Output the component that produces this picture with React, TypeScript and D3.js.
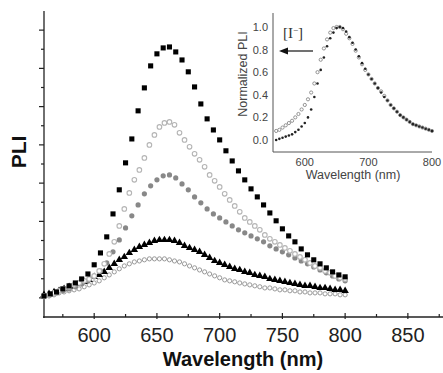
import React from "react";
import * as d3 from "d3";

// ---------- Main chart data (PLI, arbitrary units) ----------
const wl5 = d3.range(560, 801, 5); // 5 nm sampling
const wl4 = d3.range(560, 801, 4); // 4 nm sampling

const seriesSquares = [
  0.10, 0.21, 0.31, 0.47, 0.63, 0.78, 0.99, 1.25, 1.73, 2.35, 3.19, 4.39, 5.65, 7.06, 8.31, 9.78, 10.98,
  12.13, 12.76, 13.07, 13.12, 12.86, 12.44, 11.82, 11.03, 10.14, 9.36, 8.78, 8.26, 7.69, 7.16, 6.64, 6.17,
  5.70, 5.28, 4.86, 4.44, 4.03, 3.61, 3.24, 2.93, 2.56, 2.25, 1.99, 1.78, 1.57, 1.36, 1.20, 1.10,
];
const seriesOpenLight = [
  0.10, 0.16, 0.26, 0.37, 0.47, 0.58, 0.68, 0.78, 0.89, 0.99, 1.15, 1.41, 1.78, 2.30, 2.93, 3.76, 4.65,
  5.49, 6.17, 6.69, 7.32, 8.00, 8.52, 8.94, 9.15, 9.20, 9.05, 8.63, 8.26, 7.90, 7.53, 7.22, 6.85, 6.43,
  6.12, 5.80, 5.44, 5.12, 4.81, 4.50, 4.18, 3.97, 3.76, 3.56, 3.29, 3.09, 2.93, 2.77, 2.61, 2.46, 2.30,
  2.14, 1.99, 1.83, 1.67, 1.57, 1.41, 1.31, 1.15, 1.05, 0.99,
];
const seriesGray = [
  0.10, 0.16, 0.26, 0.37, 0.47, 0.58, 0.73, 0.89, 1.10, 1.41, 1.83, 2.41, 3.03, 3.66, 4.29, 4.86, 5.44,
  5.86, 6.17, 6.38, 6.43, 6.27, 5.96, 5.65, 5.28, 4.97, 4.65, 4.39, 4.18, 3.97, 3.76, 3.56, 3.40, 3.24,
  3.09, 2.93, 2.72, 2.56, 2.41, 2.25, 2.09, 1.93, 1.78, 1.62, 1.46, 1.31, 1.15, 0.99, 0.89,
];
const seriesTriangles = [
  0.16, 0.21, 0.31, 0.37, 0.47, 0.58, 0.63, 0.73, 0.84, 0.94, 1.10, 1.20, 1.36, 1.57, 1.78, 1.99, 2.14,
  2.35, 2.51, 2.67, 2.77, 2.88, 2.98, 3.03, 3.03, 3.03, 2.98, 2.88, 2.72, 2.61, 2.51, 2.41, 2.25, 2.09,
  1.93, 1.83, 1.73, 1.62, 1.52, 1.46, 1.36, 1.31, 1.20, 1.15, 1.10, 0.99, 0.94, 0.89, 0.84, 0.78, 0.73,
  0.68, 0.63, 0.63, 0.58, 0.52, 0.52, 0.47, 0.42, 0.42, 0.37,
];
const seriesOpenLow = [
  0.05, 0.10, 0.16, 0.26, 0.31, 0.37, 0.42, 0.47, 0.58, 0.68, 0.78, 0.89, 1.05, 1.20, 1.36, 1.52, 1.67,
  1.78, 1.88, 1.93, 1.99, 2.04, 2.04, 2.04, 2.04, 1.99, 1.93, 1.88, 1.78, 1.67, 1.57, 1.46, 1.36, 1.25,
  1.15, 1.05, 0.94, 0.89, 0.84, 0.78, 0.73, 0.68, 0.63, 0.58, 0.52, 0.52, 0.47, 0.42, 0.42, 0.37, 0.37,
  0.31, 0.31, 0.26, 0.26, 0.26, 0.21, 0.21, 0.21, 0.16, 0.16,
];
const xTicks = [600, 650, 700, 750, 800, 850];

// ---------- Inset data (normalized PLI) ----------
const wlInset = d3.range(555, 801, 5);
const insetGray = [
  0.08, 0.09, 0.11, 0.13, 0.15, 0.17, 0.20, 0.23, 0.27, 0.31, 0.36, 0.42, 0.50, 0.60, 0.71, 0.81, 0.89,
  0.95, 0.99, 1.00, 1.00, 0.98, 0.94, 0.90, 0.85, 0.79, 0.73, 0.67, 0.62, 0.58, 0.54, 0.50, 0.46, 0.43,
  0.39, 0.35, 0.31, 0.28, 0.25, 0.22, 0.20, 0.18, 0.16, 0.14, 0.13, 0.12, 0.11, 0.10, 0.09, 0.08,
];
const insetBlack = [
  0.00, 0.01, 0.02, 0.03, 0.04, 0.05, 0.07, 0.09, 0.12, 0.15, 0.20, 0.27, 0.38, 0.50, 0.62, 0.73, 0.83,
  0.90, 0.95, 0.99, 1.00, 0.99, 0.96, 0.91, 0.86, 0.80, 0.74, 0.68, 0.63, 0.58, 0.54, 0.50, 0.46, 0.42,
  0.38, 0.35, 0.31, 0.28, 0.25, 0.22, 0.20, 0.18, 0.16, 0.14, 0.13, 0.12, 0.11, 0.10, 0.09, 0.08,
];
const insetYTicks = [0.0, 0.2, 0.4, 0.6, 0.8, 1.0];
const insetXTicks = [600, 700, 800];

const W = 443;
const H = 373;

export default function App() {
  const x = d3.scaleLinear().domain([560, 878]).range([44, 443]);
  const y = d3.scaleLinear().domain([-1, 15]).range([317, 11]);

  const xi = d3.scaleLinear().domain([550, 800]).range([273, 432]);
  const yi = d3.scaleLinear().domain([-0.1, 1.12]).range([151.3, 13.4]);

  const sq = d3.symbol().type(d3.symbolSquare).size(26)() as string;
  const tri = d3.symbol().type(d3.symbolTriangle).size(24)() as string;

  const minorX = d3.range(575, 876, 25);
  const yTickVals = d3.range(0, 15, 1);

  return (
    <svg width={W} height={H} style={{ position: "absolute", left: 0, top: 0, background: "#fff" }}
      fontFamily="'Liberation Sans', Arial, sans-serif">
      {/* main axes */}
      <line x1={44} x2={44} y1={11} y2={318} stroke="#222" strokeWidth={1.3} />
      <line x1={43} x2={443} y1={317} y2={317} stroke="#222" strokeWidth={1.3} />
      {yTickVals.map((v) => (
        <line key={"yt" + v} x1={44 - (v % 2 === 0 ? 5 : 3)} x2={44} y1={y(v)} y2={y(v)} stroke="#222" strokeWidth={1.2} />
      ))}
      {minorX.map((v) => (
        <line key={"xt" + v} x1={x(v)} x2={x(v)} y1={317 - (v % 50 === 0 ? 4 : 3)} y2={317 + (v % 50 === 0 ? 2 : 0)}
          stroke="#222" strokeWidth={1.2} />
      ))}
      {xTicks.map((v) => (
        <text key={"xl" + v} x={x(v)} y={342} textAnchor="middle" fontSize={20} fill="#222">
          {v}
        </text>
      ))}
      <text x={243} y={366} textAnchor="middle" fontSize={20} fontWeight="bold" fill="#111">
        Wavelength (nm)
      </text>
      <text transform="translate(26,152) rotate(-90)" textAnchor="middle" fontSize={21} fontWeight="bold" fill="#111">
        PLI
      </text>

      {/* series: lowest first */}
      {seriesOpenLow.map((v, i) => (
        <circle key={"s5" + i} cx={x(wl4[i])} cy={y(v)} r={2.1} fill="#fff" stroke="#999" strokeWidth={1} />
      ))}
      {seriesTriangles.map((v, i) => (
        <path key={"s4" + i} d={tri} transform={`translate(${x(wl4[i])},${y(v)})`} fill="#000" />
      ))}
      {seriesGray.map((v, i) => (
        <circle key={"s3" + i} cx={x(wl5[i])} cy={y(v)} r={2.6} fill="#888" />
      ))}
      {seriesOpenLight.map((v, i) => (
        <circle key={"s2" + i} cx={x(wl4[i])} cy={y(v)} r={2.3} fill="#fff" stroke="#b5b5b5" strokeWidth={1.1} />
      ))}
      {seriesSquares.map((v, i) => (
        <path key={"s1" + i} d={sq} transform={`translate(${x(wl5[i])},${y(v)})`} fill="#000" />
      ))}

      {/* inset */}
      <line x1={273} x2={273} y1={13} y2={152} stroke="#555" strokeWidth={1} />
      <line x1={273} x2={432} y1={152} y2={152} stroke="#555" strokeWidth={1} />
      {insetYTicks.map((v) => (
        <text key={"iy" + v} x={268} y={yi(v) + 4} textAnchor="end" fontSize={11} fill="#444">
          {v.toFixed(1)}
        </text>
      ))}
      {insetXTicks.map((v) => (
        <text key={"ix" + v} x={xi(v)} y={166} textAnchor="middle" fontSize={11} fill="#444">
          {v}
        </text>
      ))}
      <text x={353} y={179} textAnchor="middle" fontSize={12.5} fill="#444">
        Wavelength (nm)
      </text>
      <text transform="translate(247,74) rotate(-90)" textAnchor="middle" fontSize={12.5} fill="#444">
        Normalized PLI
      </text>
      {insetGray.map((v, i) => (
        <circle key={"ig" + i} cx={xi(wlInset[i])} cy={yi(v)} r={1.6} fill="#fff" stroke="#888" strokeWidth={0.9} />
      ))}
      {insetBlack.map((v, i) => (
        <circle key={"ib" + i} cx={xi(wlInset[i])} cy={yi(v)} r={1.3} fill="#222" />
      ))}
      <text x={283} y={38} fontSize={15} fontFamily="'Liberation Serif', 'Times New Roman', serif" fill="#333">
        [I<tspan dy={-5} fontSize={9}>−</tspan><tspan dy={5}>]</tspan>
      </text>
      <line x1={313} x2={286} y1={51} y2={51} stroke="#111" strokeWidth={1.2} />
      <path d="M279,51 L288,47.5 L288,54.5 Z" fill="#111" />
    </svg>
  );
}
